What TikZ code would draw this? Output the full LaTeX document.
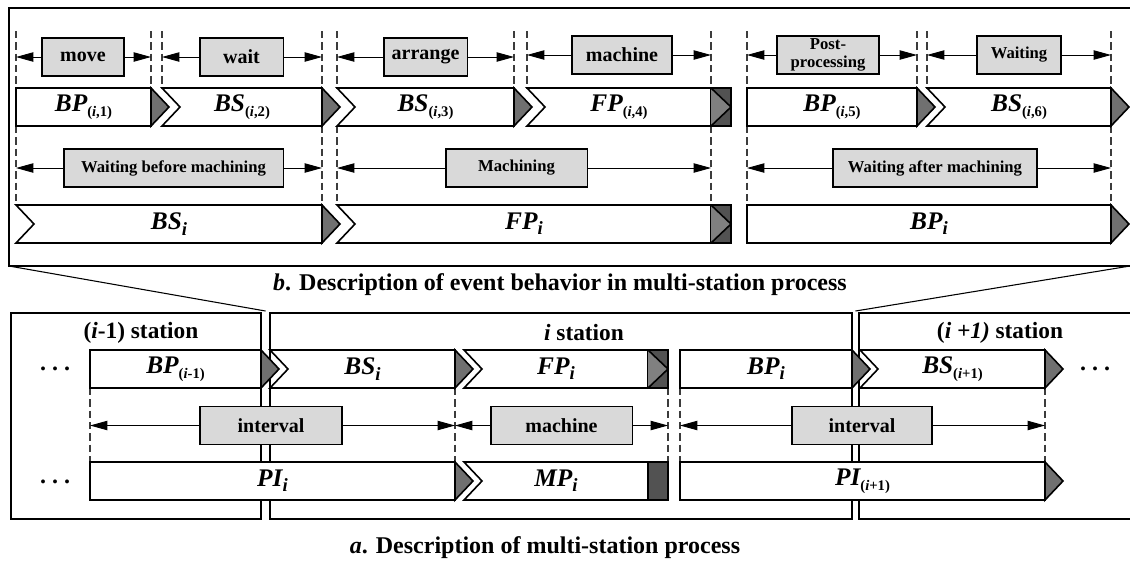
\documentclass[tikz,border=0pt]{standalone}
\usepackage{fontspec}
\setmainfont{Liberation Serif}
\usetikzlibrary{arrows.meta}

\definecolor{tipgray}{RGB}{112,112,112}
\definecolor{endgray}{RGB}{82,82,82}
\definecolor{midgray}{RGB}{128,128,128}
\definecolor{boxgray}{RGB}{217,217,217}
\definecolor{dashgray}{RGB}{60,60,60}

\tikzset{
  frame/.style={line width=1.5pt},
  bar/.style={draw, fill=white, line width=1.2pt, line join=miter},
  tip/.style={draw, fill=tipgray, line width=1.2pt},
  lab/.style={font=\fontsize{19}{19}\selectfont\bfseries\itshape, inner sep=0pt},
  tag/.style={draw, fill=boxgray, line width=0.8pt, inner sep=0pt, minimum height=28.5pt,
    font=\fontsize{15}{15}\selectfont\bfseries},
  smalltag/.style={tag, font=\fontsize{12.5}{14}\selectfont\bfseries, align=center},
  span/.style={line width=0.7pt, -{Triangle[length=13pt,width=7pt]}},
  guide/.style={dashgray, line width=0.8pt, dash pattern=on 5.5pt off 3pt},
  station/.style={font=\fontsize{17.5}{17.5}\selectfont\bfseries},
  caption/.style={font=\fontsize{18}{18}\selectfont\bfseries},
  dots/.style={font=\fontsize{18}{18}\selectfont\bfseries, inner sep=0pt},
}

% event bars: name, x start, x end, y top, label
\newcommand\flatbar[5]{%
  \draw[bar] (#2,#4) rectangle (#3,#4+38);
  \node[lab] (#1) at ({(#2+#3)/2},#4+19) {#5};}
\newcommand\notchbar[5]{%
  \draw[bar] (#2,#4) -- (#3,#4) -- (#3,#4+38) -- (#2,#4+38) -- (#2+18,#4+19) -- cycle;
  \node[lab] (#1) at ({(#2+#3)/2},#4+19) {#5};}
% ends: x, y top
\newcommand\graytip[2]{\draw[tip] (#1,#2) -- (#1+18,#2+19) -- (#1,#2+38) -- cycle;}
\newcommand\darkend[2]{%
  \draw[tip, fill=endgray] (#1,#2) rectangle (#1+20,#2+38);
  \draw[tip, fill=midgray] (#1,#2) -- (#1+20,#2+19) -- (#1,#2+38);}
\newcommand\darkblock[2]{\draw[tip, fill=endgray] (#1,#2) rectangle (#1+20,#2+38);}
% labels with subscripts
\newcommand\ev[2]{#1\raisebox{-3.5pt}{\fontsize{11}{11}\selectfont\upshape #2}}
\newcommand\evi[1]{#1\raisebox{-4pt}{\fontsize{14}{14}\selectfont i}}

\begin{document}
\begin{tikzpicture}[x=0.75pt, y=-0.75pt]
  \useasboundingbox (0,0) rectangle (1130,562);

  % frames
  \draw[frame] (9,8) rectangle (1136,266);
  \draw[frame] (11,313) rectangle (261,519);
  \draw[frame] (270,313) rectangle (852,519);
  \draw[frame] (859,313) rectangle (1136,519);
  \coordinate (zl) at (9,266);
  \coordinate (zr) at (1130,266);
  \coordinate (gapl) at (265.5,311);
  \coordinate (gapr) at (855.5,311);
  \draw[line width=0.8pt] (zl) -- (gapl);
  \draw[line width=0.8pt] (zr) -- (gapr);

  % guide positions
  \foreach \gx [count=\k] in {16,151,162,322,337,514,527,711,747,917,927,1111}
    \coordinate (t\k) at (\gx,0);
  \foreach \gx [count=\k] in {90,455,668,680,1045}
    \coordinate (b\k) at (\gx,0);

  \foreach \gx in {16,151,162,322,337,514,527,711,747,917,927,1111}
    \draw[guide] (\gx,31) -- (\gx,88);
  \foreach \gx in {16,322,337,711,747,1111}
    \draw[guide] (\gx,126) -- (\gx,205);
  \foreach \gx in {90,455,668,680,1045}
    \draw[guide] (\gx,388) -- (\gx,462);

  % b: steps of one station
  \node[tag, minimum width=61.5pt] (move) at (83,57) {move};
  \node[tag, minimum width=62.3pt] (wait) at (241.5,57) {wait};
  \node[tag, minimum width=62.3pt] (arrange) at (425.5,57) {arrange};
  \node[tag, minimum width=75pt] (mach) at (622,55) {machine};
  \node[smalltag, minimum width=76.5pt] (post) at (828,55) {Post-\\processing};
  \node[smalltag, minimum width=63pt] (waiting) at (1019,55) {Waiting};
  \draw[span] (move) -- (move -| t1);
  \draw[span] (move) -- (move -| t2);
  \draw[span] (wait) -- (wait -| t3);
  \draw[span] (wait) -- (wait -| t4);
  \draw[span] (arrange) -- (arrange -| t5);
  \draw[span] (arrange) -- (arrange -| t6);
  \draw[span] (mach) -- (mach -| t7);
  \draw[span] (mach) -- (mach -| t8);
  \draw[span] (post) -- (post -| t9);
  \draw[span] (post) -- (post -| t10);
  \draw[span] (waiting) -- (waiting -| t11);
  \draw[span] (waiting) -- (waiting -| t12);

  \flatbar{bpa}{16}{151}{88}{\ev{BP}{(\textit{i},1)}}
  \graytip{151}{88}
  \notchbar{bsb}{162}{322}{88}{\ev{BS}{(\textit{i},2)}}
  \graytip{322}{88}
  \notchbar{bsc}{337}{514}{88}{\ev{BS}{(\textit{i},3)}}
  \graytip{514}{88}
  \notchbar{fpd}{527}{711}{88}{\ev{FP}{(\textit{i},4)}}
  \darkend{711}{88}
  \flatbar{bpe}{747}{917}{88}{\ev{BP}{(\textit{i},5)}}
  \graytip{917}{88}
  \notchbar{bsf}{927}{1111}{88}{\ev{BS}{(\textit{i},6)}}
  \graytip{1111}{88}

  \node[smalltag, minimum width=164.3pt] (wbm) at (173.5,168) {Waiting before machining};
  \node[smalltag, minimum width=105.8pt] (mcg) at (516.5,168) {Machining};
  \node[smalltag, minimum width=153pt] (wam) at (935,168) {Waiting after machining};
  \draw[span] (wbm) -- (wbm -| t1);
  \draw[span] (wbm) -- (wbm -| t4);
  \draw[span] (mcg) -- (mcg -| t5);
  \draw[span] (mcg) -- (mcg -| t8);
  \draw[span] (wam) -- (wam -| t9);
  \draw[span] (wam) -- (wam -| t12);

  \notchbar{bsi}{16}{322}{205}{\evi{BS}}
  \graytip{322}{205}
  \notchbar{fpi}{337}{711}{205}{\evi{FP}}
  \darkend{711}{205}
  \flatbar{bpi}{747}{1111}{205}{\evi{BP}}
  \graytip{1111}{205}

  \node[caption] (capb) at (560,285) {\textit{b}. Description of event behavior in multi-station process};

  % a: stations
  \node[station] (sta) at (141,333) {(\textit{i}-1) station};
  \node[station] (stb) at (584,333) {\textit{i} station};
  \node[station] (stc) at (1000,333) {(\textit{i +1)} station};

  \node[dots] (dla) at (55,369) {.~.~.};
  \node[dots] (dlb) at (55,482) {.~.~.};
  \node[dots] (dra) at (1095,369) {.~.~.};

  \flatbar{bpm}{90}{261}{350}{\ev{BP}{(\textit{i}-1)}}
  \graytip{261}{350}
  \notchbar{bsa}{270}{455}{350}{\evi{BS}}
  \graytip{455}{350}
  \notchbar{fpa}{464}{648}{350}{\evi{FP}}
  \darkend{648}{350}
  \flatbar{bpa2}{680}{852}{350}{\evi{BP}}
  \graytip{852}{350}
  \notchbar{bsn}{860}{1045}{350}{\ev{BS}{(\textit{i}+1)}}
  \graytip{1045}{350}

  \node[tag, minimum width=106.5pt] (intl) at (271,425.5) {interval};
  \node[tag, minimum width=105.8pt] (macha) at (561.5,425.5) {machine};
  \node[tag, minimum width=105pt] (intr) at (862,425.5) {interval};
  \draw[span] (intl) -- (intl -| b1);
  \draw[span] (intl) -- (intl -| b2);
  \draw[span] (macha) -- (macha -| b2);
  \draw[span] (macha) -- (macha -| b3);
  \draw[span] (intr) -- (intr -| b4);
  \draw[span] (intr) -- (intr -| b5);

  \flatbar{pii}{90}{455}{462}{\evi{PI}}
  \graytip{455}{462}
  \notchbar{mpi}{464}{648}{462}{\evi{MP}}
  \darkblock{648}{462}
  \flatbar{pin}{680}{1045}{462}{\ev{PI}{(\textit{i}+1)}}
  \graytip{1045}{462}

  \node[caption] (capa) at (545,548) {\textit{a}. Description of multi-station process};
\end{tikzpicture}
\end{document}
